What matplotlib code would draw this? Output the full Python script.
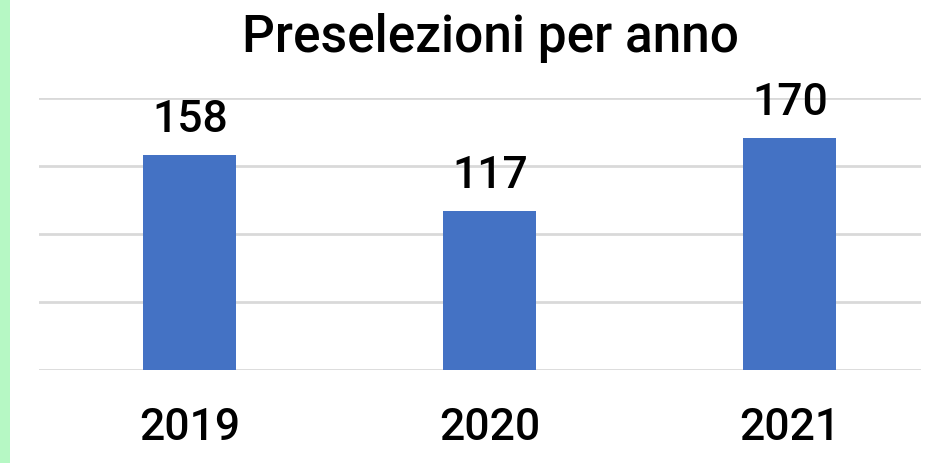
import matplotlib
matplotlib.use("Agg")
import matplotlib.pyplot as plt
from matplotlib.patches import Rectangle

categories = ["2019", "2020", "2021"]
values = [158, 117, 170]
title = "Preselezioni per anno"

plt.rcParams['font.family'] = ['Roboto', 'DejaVu Sans']

W, H = 926, 463
fig = plt.figure(figsize=(W / 100, H / 100), dpi=100)
fig.patch.set_facecolor('white')

# green strip at left edge
fig.patches.append(Rectangle((0, 0), 10 / W, 1, transform=fig.transFigure,
                             facecolor='#b6f8c4', edgecolor='none', zorder=0))

left, right = 39 / W, 921 / W
bottom, top = 1 - 370 / H, 1 - 97.5 / H
ax = fig.add_axes([left, bottom, right - left, top - bottom])

x = list(range(len(categories)))
bars = ax.bar(x, values, width=0.31, color='#4472C4', zorder=3)
ax.set_xlim(-0.503, 2.437)
ax.set_ylim(0, 200)
ax.set_yticks([0, 50, 100, 150, 200])
ax.yaxis.grid(True, color='#d9d9d9', linewidth=2)
ax.set_axisbelow(True)
ax.tick_params(axis='y', left=False, labelleft=False)
ax.set_xticks(x)
ax.set_xticklabels(categories, fontsize=32, fontweight='medium')
ax.tick_params(axis='x', length=0, pad=27)
for s in ax.spines.values():
    s.set_visible(False)

for xi, v in zip(x, values):
    ax.annotate(str(v), (xi, v), xytext=(0, 10), textcoords='offset points',
                ha='center', va='bottom', fontsize=32, fontweight='medium')

fig.text(490 / W, 1 - 38 / H, title, ha='center', va='center', fontsize=37,
         fontweight='medium')

fig.savefig('out.png', dpi=100)
